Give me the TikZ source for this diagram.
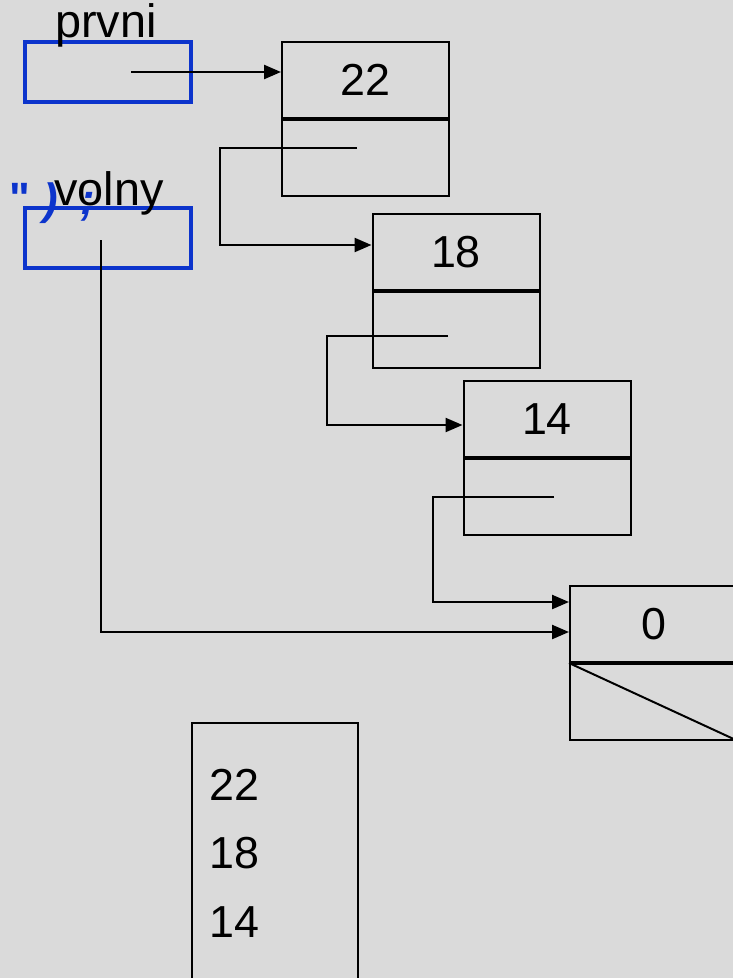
\documentclass[tikz,border=0pt]{standalone}
\usepackage{fontspec}
\setmainfont{Liberation Sans}
\newfontfamily\glyphfont{Liberation Sans}
\usetikzlibrary{arrows.meta}
\definecolor{bggray}{RGB}{218,218,218}
\definecolor{varblue}{RGB}{12,52,204}
\tikzset{
  cell/.style={draw=black, line width=2bp, minimum width=167bp, minimum height=76bp,
               inner sep=0pt, font=\fontsize{45}{50}\selectfont},
  varbox/.style={draw=varblue, line width=3.8bp, minimum width=166bp, minimum height=60bp, inner sep=0pt},
  lbl/.style={inner sep=0pt, anchor=base west, font=\fontsize{47}{50}\selectfont},
  num/.style={inner sep=0pt, anchor=base west, font=\fontsize{45}{50}\selectfont},
  glyph/.style={inner sep=0pt, anchor=base west, text=varblue, font=\glyphfont\fontsize{44}{50}\selectfont\bfseries\itshape},
  link/.style={draw=black, line width=2.4bp, -{Triangle[length=17bp,width=14bp]}},
  plain/.style={draw=black, line width=2bp},
}
\begin{document}
\begin{tikzpicture}[x=1bp,y=-1bp]
  \fill[bggray] (0,0) rectangle (733,978);
  \useasboundingbox (0,0) rectangle (733,978);
  \clip (0,0) rectangle (733,978);

  % variables
  \node[varbox] (pbox) at (108,72) {};
  \node[varbox] (vbox) at (108,238) {};
  \node[lbl] (plbl) at (55,37) {prvni};
  \node[lbl] (vlbl) at (54,205) {volny};
  \node[glyph, font=\glyphfont\fontsize{44}{50}\selectfont\bfseries] (q1) at (9,213) {"};
  \node[glyph] (q2) at (43,214) {)};
  \node[glyph] (q3) at (80,214) {;};

  % list elements: data cell on top, pointer cell below
  \node[cell] (d22) at (365.5,80) {22};
  \node[cell, anchor=north] (p22) at (d22.south) {};
  \node[cell] (d18) at (456,252) {18};
  \node[cell, anchor=north] (p18) at (d18.south) {};
  \node[cell] (d14) at (547,419) {14};
  \node[cell, anchor=north] (p14) at (d14.south) {};
  \node[cell] (d0) at (653.5,624) {0};
  \node[cell, anchor=north] (p0) at (d0.south) {};
  \draw[plain] (p0.north west) -- (p0.south east);

  % pointer starts
  \coordinate (s1) at (131,72);
  \coordinate (s22) at (357,148);
  \coordinate (s18) at (448,336);
  \coordinate (s14) at (554,497);
  \coordinate (sv) at (101,240);

  \draw[link] (s1) -- (s1 -| d22.west);
  \draw[link] (s22) -- (220,148) -- (220,245) -- (d18.west |- 0,245);
  \draw[link] (s18) -- (327,336) -- (327,425) -- (d14.west |- 0,425);
  \draw[link] (s14) -- (433,497) -- (433,602) -- (d0.west |- 0,602);
  \draw[link] (sv) -- (101,632) -- (d0.west |- 0,632);

  % printed output
  \node[draw=black, line width=2bp, minimum width=166bp, minimum height=280bp, inner sep=0pt] (out) at (275,863) {};
  \node[num] (o1) at (209,800) {22};
  \node[num] (o2) at (209,868) {18};
  \node[num] (o3) at (209,937) {14};
\end{tikzpicture}
\end{document}
